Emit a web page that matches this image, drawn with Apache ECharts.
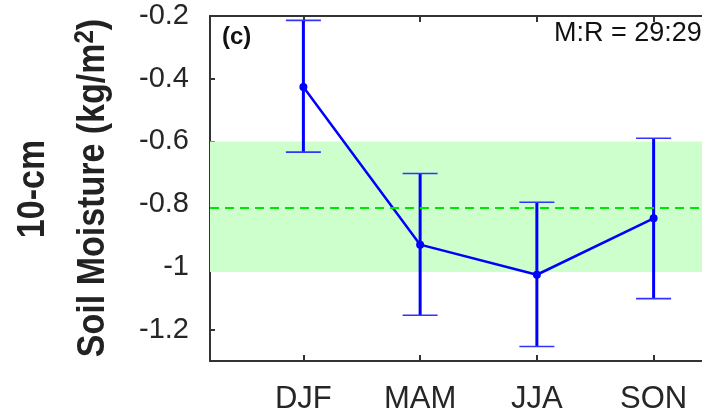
<!DOCTYPE html>
<html>
<head>
<meta charset="utf-8">
<script src="https://cdn.jsdelivr.net/npm/echarts@6/dist/echarts.min.js"></script>
<style>
html,body{margin:0;padding:0;background:#fff;}
#chart{width:702px;height:414px;}
</style>
</head>
<body>
<div id="chart"></div>
<script>
// ---- data ----
const seasons = ['DJF', 'MAM', 'JJA', 'SON'];
const seasonPos = [1, 2, 3, 4];
const meanValues = [-0.426, -0.929, -1.025, -0.845];
const upperValues = [-0.214, -0.702, -0.794, -0.590];
const lowerValues = [-0.634, -1.154, -1.254, -1.101];
const bandTop = -0.6;
const bandBottom = -1.016;
const refLine = -0.812;
const yTicks = [-1.2, -1, -0.8, -0.6, -0.4, -0.2];
const panelLabel = '(c)';
const ratioText = 'M:R = 29:29';

const chart = echarts.init(document.getElementById('chart'), null, {renderer: 'canvas'});

const meanData = seasonPos.map((x, i) => [x, meanValues[i]]);
const errData = seasonPos.map((x, i) => [x, lowerValues[i], upperValues[i]]);

const axisColor = '#333333';
const font = 'Liberation Sans, Arial, sans-serif';

const option = {
  animation: false,
  backgroundColor: '#ffffff',
  grid: {left: 210, top: 16, width: 537, height: 345, containLabel: false, outerBoundsMode: 'none'},
  xAxis: [{
    type: 'value', min: 0.2, max: 4.8, position: 'bottom',
    axisLine: {show: true, onZero: false, lineStyle: {color: axisColor, width: 2}},
    axisTick: {show: true, inside: true, length: 6, customValues: seasonPos, lineStyle: {color: axisColor, width: 2}},
    axisLabel: {show: true, customValues: seasonPos, margin: 23, color: '#262626', fontSize: 31, fontFamily: font,
      formatter: v => seasons[Math.round(v) - 1] || ''},
    splitLine: {show: false}
  }, {
    type: 'value', min: 0.2, max: 4.8, position: 'top',
    axisLine: {show: true, onZero: false, lineStyle: {color: axisColor, width: 2}},
    axisTick: {show: true, inside: true, length: 6, customValues: seasonPos, lineStyle: {color: axisColor, width: 2}},
    axisLabel: {show: false},
    splitLine: {show: false}
  }],
  yAxis: [{
    type: 'value', min: -1.3, max: -0.2, position: 'left',
    axisLine: {show: true, onZero: false, lineStyle: {color: axisColor, width: 2}},
    axisTick: {show: true, inside: true, length: 5, customValues: yTicks, lineStyle: {color: axisColor, width: 2}},
    axisLabel: {show: true, customValues: yTicks, margin: 21, color: '#262626', fontSize: 29, fontFamily: font,
      formatter: v => String(Math.round(v * 10) / 10)},
    splitLine: {show: false}
  }, {
    type: 'value', min: -1.3, max: -0.2, position: 'right',
    axisLine: {show: true, onZero: false, lineStyle: {color: axisColor, width: 2}},
    axisTick: {show: false}, axisLabel: {show: false}, splitLine: {show: false}
  }],
  series: [{
    name: 'band',
    type: 'line',
    data: [],
    z: 1,
    silent: true,
    markArea: {
      silent: true,
      itemStyle: {color: '#ccffcc'},
      data: [[{yAxis: bandTop}, {yAxis: bandBottom}]]
    },
    markLine: {
      silent: true,
      symbol: ['none', 'none'],
      label: {show: false},
      lineStyle: {color: '#00e600', width: 2, type: [9, 6]},
      data: [{yAxis: refLine}]
    }
  }, {
    name: 'error',
    type: 'custom',
    z: 3,
    data: errData,
    renderItem: function (params, api) {
      const x = api.value(0);
      const lo = api.coord([x, api.value(1)]);
      const hi = api.coord([x, api.value(2)]);
      const hw = 17.5;
      return {
        type: 'group',
        children: [
          {type: 'line', shape: {x1: hi[0], y1: hi[1], x2: lo[0], y2: lo[1]}, style: {stroke: '#0000ff', lineWidth: 3}},
          {type: 'line', shape: {x1: hi[0] - hw, y1: hi[1], x2: hi[0] + hw, y2: hi[1]}, style: {stroke: '#3333ff', lineWidth: 1.6}},
          {type: 'line', shape: {x1: lo[0] - hw, y1: lo[1], x2: lo[0] + hw, y2: lo[1]}, style: {stroke: '#3333ff', lineWidth: 1.6}}
        ]
      };
    }
  }, {
    name: 'mean',
    type: 'line',
    z: 4,
    data: meanData,
    symbol: 'circle',
    symbolSize: 8,
    itemStyle: {color: '#0000ff'},
    lineStyle: {color: '#0000ff', width: 2.5}
  }],
  graphic: [
    {type: 'text', left: 222, top: 25, z: 10, style: {text: panelLabel, fontSize: 24, fontWeight: 'bold', fontFamily: font, fill: '#111'}},
    {type: 'text', left: 554, top: 20, z: 10, style: {text: ratioText, fontSize: 27, fontFamily: font, fill: '#111'}},
    {type: 'text', x: 33, y: 189, rotation: Math.PI / 2, scaleY: 1.15, z: 10,
      style: {text: '10-cm', fontSize: 34, fontWeight: 'bold', fontFamily: font, fill: '#222', align: 'center', verticalAlign: 'middle'}},
    {type: 'text', x: 93, y: 188, rotation: Math.PI / 2, scaleY: 1.15, z: 10,
      style: {text: 'Soil Moisture (kg/m{sup|2})', fontSize: 34, fontWeight: 'bold', fontFamily: font, fill: '#222', align: 'center', verticalAlign: 'middle',
        rich: {sup: {fontSize: 24, fontWeight: 'bold', fontFamily: font, fill: '#222', verticalAlign: 'top', padding: [0, 0, 14, 0]}}}}
  ]
};
chart.setOption(option);
</script>
</body>
</html>
